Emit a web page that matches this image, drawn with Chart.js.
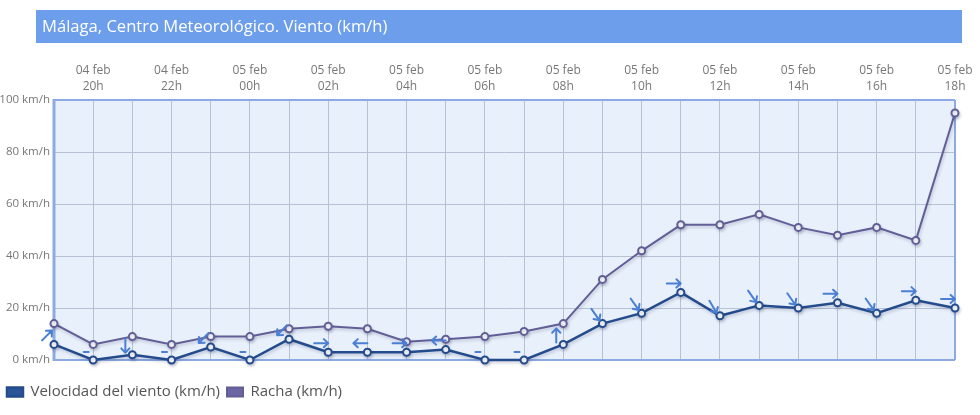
<!DOCTYPE html>
<html>
<head>
<meta charset="utf-8">
<script src="https://cdn.jsdelivr.net/npm/chart.js@4.4.1/dist/chart.umd.min.js"></script>
<style>
  html, body { margin: 0; padding: 0; background: #ffffff; }
  #wrap { width: 980px; height: 415px; position: relative; }
</style>
</head>
<body>
<div id="wrap"><canvas id="c" width="980" height="415"></canvas></div>
<script>
// ---- Data ----
const titulo = 'Málaga, Centro Meteorológico. Viento (km/h)';
const categorias = [
  '04 feb 19h','04 feb 20h','04 feb 21h','04 feb 22h','04 feb 23h',
  '05 feb 00h','05 feb 01h','05 feb 02h','05 feb 03h','05 feb 04h',
  '05 feb 05h','05 feb 06h','05 feb 07h','05 feb 08h','05 feb 09h',
  '05 feb 10h','05 feb 11h','05 feb 12h','05 feb 13h','05 feb 14h',
  '05 feb 15h','05 feb 16h','05 feb 17h','05 feb 18h'
];
const velocidad = [6,0,2,0,5,0,8,3,3,3,4,0,0,6,14,18,26,17,21,20,22,18,23,20];
const racha     = [14,6,9,6,9,9,12,13,12,7,8,9,11,14,31,42,52,52,56,51,48,51,46,95];
// heading the arrow points to (degrees, 0 = N, 90 = E); null = calm
const rumbo = [45,null,180,null,225,null,225,90,270,90,270,null,null,0,145,145,90,150,145,145,90,145,90,90];
const yTicks = [0,20,40,60,80,100];

const FONT = '"Open Sans", "Noto Sans", sans-serif';

const decorPlugin = {
  id: 'decor',
  beforeDraw(chart) {
    const ctx = chart.ctx, a = chart.chartArea;
    ctx.save();
    // title bar
    ctx.fillStyle = '#6d9eeb';
    ctx.fillRect(36, 10, 926, 33);
    ctx.fillStyle = '#ffffff';
    ctx.font = '16.6px ' + FONT;
    ctx.textBaseline = 'middle';
    ctx.textAlign = 'left';
    ctx.fillText(titulo, 42, 27.5);
    // plot background
    ctx.fillStyle = '#e8f0fb';
    ctx.fillRect(a.left, a.top, a.right - a.left, a.bottom - a.top);
    ctx.restore();
  },
  beforeDatasetsDraw(chart) {
    const ctx = chart.ctx, a = chart.chartArea;
    ctx.save();
    ctx.strokeStyle = '#8dabe2';
    ctx.lineWidth = 2;
    ctx.beginPath();
    ctx.moveTo(a.left, a.top); ctx.lineTo(a.right, a.top);
    ctx.moveTo(a.right, a.top); ctx.lineTo(a.right, a.bottom);
    ctx.moveTo(a.left, a.bottom); ctx.lineTo(a.right, a.bottom);
    ctx.stroke();
    ctx.lineWidth = 3;
    ctx.beginPath();
    ctx.moveTo(a.left, a.top - 1); ctx.lineTo(a.left, a.bottom + 1);
    ctx.stroke();
    ctx.restore();
  },
  beforeDatasetDraw(chart) {
    const ctx = chart.ctx;
    ctx.save();
    ctx.shadowColor = 'rgba(40,50,90,0.22)';
    ctx.shadowBlur = 3;
    ctx.shadowOffsetX = 1;
    ctx.shadowOffsetY = 2;
  },
  afterDatasetDraw(chart) {
    chart.ctx.restore();
  },
  afterDatasetsDraw(chart) {
    const ctx = chart.ctx;
    const meta = chart.getDatasetMeta(0);
    ctx.save();
    ctx.strokeStyle = '#4a7fd3';
    ctx.lineWidth = 2;
    ctx.lineCap = 'round';
    ctx.lineJoin = 'round';
    meta.data.forEach((p, i) => {
      const cx = p.x - 7, cy = p.y - 9;
      const h = rumbo[i];
      ctx.beginPath();
      if (h === null) {
        ctx.moveTo(cx - 2.5, cy + 1); ctx.lineTo(cx + 2.5, cy + 1);
        ctx.stroke();
        return;
      }
      const t = (h - 90) * Math.PI / 180;
      const dx = Math.cos(t), dy = Math.sin(t);
      const L = 7;
      const x0 = cx - dx * L, y0 = cy - dy * L;
      const x1 = cx + dx * L, y1 = cy + dy * L;
      ctx.moveTo(x0, y0); ctx.lineTo(x1, y1);
      const hl = 6, ha = 0.75;
      ctx.moveTo(x1 - hl * Math.cos(t - ha), y1 - hl * Math.sin(t - ha));
      ctx.lineTo(x1, y1);
      ctx.lineTo(x1 - hl * Math.cos(t + ha), y1 - hl * Math.sin(t + ha));
      ctx.stroke();
    });
    ctx.restore();
  }
};

new Chart(document.getElementById('c'), {
  type: 'line',
  data: {
    labels: categorias,
    datasets: [
      {
        label: 'Velocidad del viento (km/h)',
        data: velocidad,
        xAxisID: 'x', yAxisID: 'y',
        borderColor: '#244b8c',
        backgroundColor: '#2b5597',
        borderWidth: 2.5,
        pointRadius: 3.5,
        pointBorderWidth: 2,
        pointBackgroundColor: '#ffffff',
        pointBorderColor: '#244b8c',
        tension: 0,
        clip: false
      },
      {
        label: 'Racha (km/h)',
        data: racha,
        xAxisID: 'x', yAxisID: 'y',
        borderColor: '#625e96',
        backgroundColor: '#6a65a5',
        borderWidth: 2,
        pointRadius: 3.5,
        pointBorderWidth: 2,
        pointBackgroundColor: '#ffffff',
        pointBorderColor: '#625e96',
        tension: 0,
        clip: false
      }
    ]
  },
  options: {
    responsive: false,
    animation: false,
    devicePixelRatio: 1,
    layout: { padding: { top: 50, left: 0, right: 25, bottom: 5.5 } },
    plugins: {
      title: { display: false },
      tooltip: { enabled: false },
      legend: {
        display: true,
        position: 'bottom',
        align: 'start',
        labels: {
          boxWidth: 16,
          boxHeight: 9,
          padding: 7,
          color: '#555555',
          font: { family: FONT, size: 15 }
        }
      }
    },
    scales: {
      x: {
        type: 'category',
        position: 'top',
        offset: false,
        afterFit(s) { s.height = 50; },
        grid: { color: '#b7c1d4', lineWidth: 1, drawTicks: false },
        border: { display: false },
        ticks: {
          autoSkip: false,
          maxRotation: 0,
          minRotation: 0,
          padding: 5,
          color: '#777777',
          font: { family: FONT, size: 12, lineHeight: 1.35 },
          callback(v, i) {
            if (i % 2 === 0) return '';
            const s = categorias[i];
            return [s.slice(0, 6), s.slice(7)];
          }
        }
      },
      xb: {
        type: 'category',
        position: 'bottom',
        display: true,
        afterFit(s) { s.height = 17.5; },
        grid: { display: false, drawTicks: false },
        border: { display: false },
        ticks: { display: false }
      },
      y: {
        min: 0,
        max: 100,
        afterFit(s) { s.width = 54; },
        afterBuildTicks(s) { s.ticks = yTicks.map(v => ({ value: v })); },
        grid: { color: '#b7c1d4', lineWidth: 1, drawTicks: false },
        border: { display: false },
        ticks: {
          padding: 4,
          color: '#777777',
          font: { family: FONT, size: 11.5 },
          callback(v) { return v + ' km/h'; }
        }
      }
    }
  },
  plugins: [decorPlugin]
});
</script>
</body>
</html>
